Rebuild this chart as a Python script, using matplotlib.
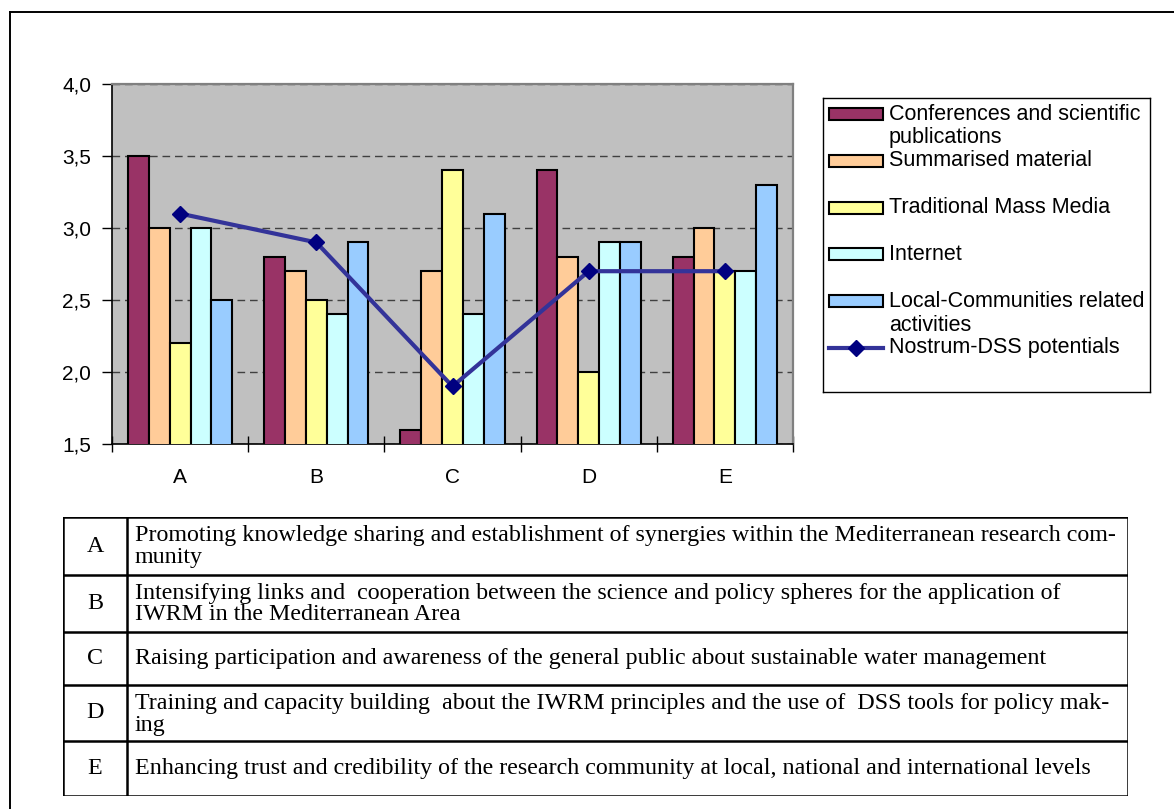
import matplotlib

matplotlib.use("Agg")
import matplotlib.pyplot as plt
import numpy as np
from matplotlib.lines import Line2D
from matplotlib.patches import Rectangle

# --- data ------------------------------------------------------------------
categories = ["A", "B", "C", "D", "E"]
series_names = [
    "Conferences and scientific\npublications",
    "Summarised material",
    "Traditional Mass Media",
    "Internet",
    "Local-Communities related\nactivities",
]
conferences = [3.5, 2.8, 1.6, 3.4, 2.8]
summarised = [3.0, 2.7, 2.7, 2.8, 3.0]
mass_media = [2.2, 2.5, 3.4, 2.0, 2.7]
internet = [3.0, 2.4, 2.4, 2.9, 2.7]
local_comm = [2.5, 2.9, 3.1, 2.9, 3.3]
nostrum = [3.1, 2.9, 1.9, 2.7, 2.7]
line_name = "Nostrum-DSS potentials"
y_ticks = [1.5, 2.0, 2.5, 3.0, 3.5, 4.0]
y_tick_labels = ["1,5", "2,0", "2,5", "3,0", "3,5", "4,0"]

descriptions = [
    ["Promoting knowledge sharing and establishment of synergies within the Mediterranean research com-",
     "munity"],
    ["Intensifying links and  cooperation between the science and policy spheres for the application of",
     "IWRM in the Mediterranean Area"],
    ["Raising participation and awareness of the general public about sustainable water management"],
    ["Training and capacity building  about the IWRM principles and the use of  DSS tools for policy mak-",
     "ing"],
    ["Enhancing trust and credibility of the research community at local, national and international levels"],
]

bar_colors = ["#993366", "#FFCC99", "#FFFF99", "#CCFFFF", "#99CCFF"]
line_color = "#333399"
marker_color = "#000080"

plt.rcParams["font.family"] = ["Liberation Sans", "DejaVu Sans"]

W, H = 1174, 809


def fig_box(x0, y0, x1, y1):
    """Pixel box (top-left origin) -> figure fraction rect."""
    return [x0 / W, 1 - y1 / H, (x1 - x0) / W, (y1 - y0) / H]


fig = plt.figure(figsize=(W / 100, H / 100), dpi=100)

# outer frame (left and top edges only, as in the screenshot)
fig.add_artist(Line2D([10 / W, 10 / W], [0, 1 - 12 / H], transform=fig.transFigure,
                      color="black", lw=1.4))
fig.add_artist(Line2D([10 / W, 1], [1 - 12 / H, 1 - 12 / H], transform=fig.transFigure,
                      color="black", lw=1.4))

# --- chart ------------------------------------------------------------------
ax = fig.add_axes(fig_box(112, 84, 793, 444))
ax.set_facecolor("#C0C0C0")
x = np.arange(len(categories))
bw = 0.153
series = [conferences, summarised, mass_media, internet, local_comm]
for i, (vals, col) in enumerate(zip(series, bar_colors)):
    ax.bar(x + (i - 2) * bw, vals, width=bw, color=col, edgecolor="black",
           linewidth=1.5, zorder=3)
ax.plot(x, nostrum, color=line_color, lw=3, marker="D", ms=8.5,
        mfc=marker_color, mec=marker_color, zorder=4, clip_on=False)

ax.set_xlim(-0.5, len(categories) - 0.5)
ax.set_ylim(1.5, 4.0)
ax.set_yticks(y_ticks)
ax.set_yticklabels(y_tick_labels)
ax.set_xticks(x)
ax.set_xticklabels(categories)
ax.set_xticks(np.arange(-0.5, len(categories)), minor=True)
ax.tick_params(axis="y", direction="out", length=7, width=1, pad=8, labelsize=15)
ax.tick_params(axis="x", which="major", length=0, pad=17, labelsize=15)
ax.tick_params(axis="x", which="minor", direction="inout", length=12, width=1)
ax.set_axisbelow(True)
ax.yaxis.grid(True, linestyle=(0, (5.5, 3.5)), color="#404040", lw=1)
for side in ("top", "right"):
    ax.spines[side].set_color("#808080")
    ax.spines[side].set_linewidth(1.6)
for side in ("left", "bottom"):
    ax.spines[side].set_color("black")
    ax.spines[side].set_linewidth(1.2)

# --- legend (Excel style, drawn by hand) -------------------------------------
lax = fig.add_axes(fig_box(823, 98, 1150, 392))
lax.set_xlim(0, 327)
lax.set_ylim(294, 0)
lax.set_xticks([])
lax.set_yticks([])
for sp in lax.spines.values():
    sp.set_color("black")
    sp.set_linewidth(1.0)
row_step = 46.8
for i, (name, col) in enumerate(zip(series_names, bar_colors)):
    yc = 16 + row_step * i
    lax.add_patch(Rectangle((6, yc - 6), 54, 12, facecolor=col, edgecolor="black", lw=1.5))
    for j, part in enumerate(name.split("\n")):
        lax.text(66, yc + 24 * j, part, fontsize=15.5, va="center", ha="left")
yc = 16 + row_step * len(series_names)
lax.add_line(Line2D([6, 60], [yc, yc], color=line_color, lw=3))
lax.add_line(Line2D([33], [yc], marker="D", ms=8.5, mfc=marker_color, mec=marker_color))
lax.text(66, yc, line_name, fontsize=15.5, va="center", ha="left")

# --- description table -------------------------------------------------------
tax = fig.add_axes(fig_box(63, 517, 1128, 796))
tax.set_xlim(0, 1065)
tax.set_ylim(279, 0)
tax.axis("off")
row_edges = [0, 58, 115, 168, 224, 279]
tab_kw = dict(color="black", lw=1.8, solid_capstyle="projecting")
for ye in row_edges:
    tax.add_line(Line2D([0, 1065], [ye, ye], **tab_kw))
for xe in (0, 64, 1065):
    tax.add_line(Line2D([xe, xe], [0, 279], **tab_kw))
serif = dict(family="Liberation Serif", fontsize=17.3)
for i, (cat, lines) in enumerate(zip(categories, descriptions)):
    top, bot = row_edges[i], row_edges[i + 1]
    mid = (top + bot) / 2
    tax.text(32, mid, cat, ha="center", va="center", **serif)
    if len(lines) == 1:
        tax.text(72, mid, lines[0], ha="left", va="center", **serif)
    else:
        for j, part in enumerate(lines):
            tax.text(72, top + 18 + 22 * j, part, ha="left", va="center", **serif)

fig.savefig("out.png", dpi=100)
plt.close(fig)
